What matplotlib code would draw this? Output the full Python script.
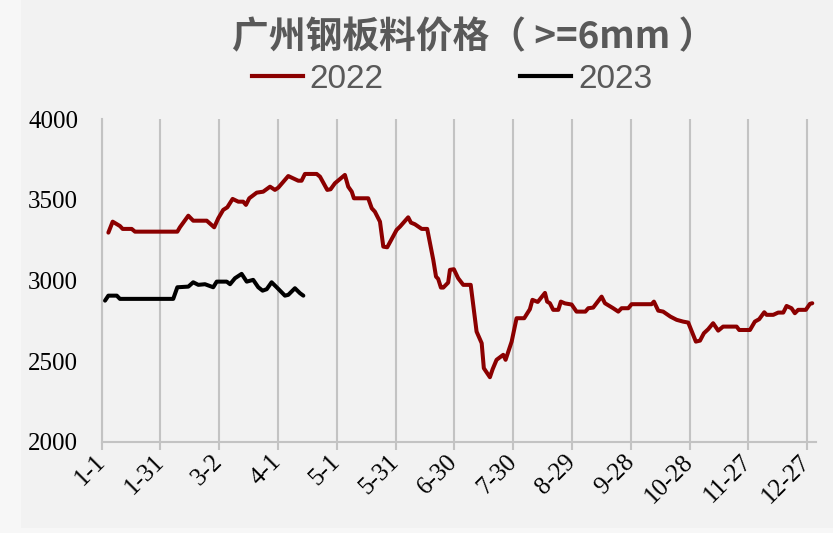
import matplotlib
matplotlib.use("Agg")
import matplotlib.pyplot as plt
from matplotlib.lines import Line2D
from matplotlib.patches import Rectangle

# ---- data ----
title = "广州钢板料价格（ >=6mm ）"
series_names = ["2022", "2023"]
tick_days = [0, 30, 60, 90, 120, 150, 180, 210, 240, 270, 300, 330, 360]
tick_labels = ["1-1", "1-31", "3-2", "4-1", "5-1", "5-31", "6-30", "7-30",
               "8-29", "9-28", "10-28", "11-27", "12-27"]

days_2022 = [3.4, 5.6, 9.3, 10.7, 15.3, 17, 38.6, 39.9, 44.2, 46.7, 53.6, 57.4,
             59.5, 62, 64.1, 66.8, 69.7, 72.2, 73.6, 75.3, 79.1, 82.4, 85.9,
             88.4, 90.1, 95.2, 100.3, 102, 103.7, 109.7, 111.4, 115.1, 116.8,
             119, 124.1, 125.8, 127.6, 128.7, 136, 137.8, 139.4, 142, 143.7,
             145.7, 148, 150.5, 152.2, 156.4, 157.8, 159.8, 163.3, 166.1,
             169.2, 170.6, 171.7, 173.1, 174.3, 176.8, 177.7, 179.7, 181.9,
             184.5, 188.3, 191.3, 193.9, 195, 198.1, 199.5, 201.5, 203.3,
             204.9, 206.1, 209.2, 211.7, 215.6, 218.5, 219.8, 222.5, 226.2,
             227.3, 228.7, 230.4, 233, 234.3, 236.4, 239.8, 242.3, 246.8,
             248.3, 250.8, 255.1, 256.8, 261, 263.6, 265.3, 268.7, 270.4,
             280.6, 281.8, 284, 286.5, 290.2, 293.4, 296.7, 299.3, 303.2,
             305.3, 307.3, 309.5, 312, 314.6, 317.1, 324, 325.3, 330.8, 333.3,
             335.5, 338.1, 339.3, 342.7, 345.2, 347.8, 349.5, 352, 353.7,
             355.4, 359.3, 361.4, 362.6]
price_2022 = [3297, 3365, 3338, 3320, 3320, 3303, 3303, 3330, 3402, 3371, 3371,
              3330, 3386, 3438, 3454, 3506, 3489, 3489, 3469, 3510, 3545, 3551,
              3582, 3562, 3576, 3648, 3619, 3619, 3661, 3661, 3644, 3562, 3566,
              3603, 3655, 3582, 3551, 3510, 3510, 3448, 3427, 3365, 3210, 3206,
              3258, 3314, 3334, 3392, 3359, 3349, 3320, 3320, 3128, 3024, 3010,
              2956, 2956, 2987, 3066, 3070, 3014, 2973, 2973, 2683, 2611, 2456,
              2400, 2450, 2508, 2524, 2539, 2508, 2621, 2766, 2766, 2822, 2880,
              2867, 2923, 2869, 2859, 2818, 2818, 2869, 2858, 2851, 2807, 2807,
              2828, 2832, 2900, 2859, 2828, 2807, 2828, 2828, 2853, 2853, 2869,
              2813, 2807, 2776, 2756, 2745, 2739, 2621, 2627, 2673, 2698, 2735,
              2689, 2714, 2714, 2693, 2693, 2745, 2760, 2803, 2787, 2787, 2801,
              2801, 2842, 2828, 2797, 2818, 2818, 2855, 2859]

days_2023 = [1.7, 3.4, 7.7, 9.3, 36.5, 38.6, 44.2, 46.7, 49.3, 52.7, 56.9, 58.7,
             63.8, 65.5, 68, 71.4, 74, 77.3, 79.9, 82.1, 84.2, 86.7, 89.3, 93.5,
             95.2, 98.6, 101.2, 102.9]
price_2023 = [2875, 2906, 2906, 2886, 2886, 2958, 2962, 2989, 2973, 2977, 2958,
              2993, 2993, 2977, 3014, 3041, 2993, 3004, 2958, 2937, 2946, 2989,
              2958, 2906, 2911, 2952, 2921, 2906]

c2022 = "#8B0000"
c2023 = "#000000"
grid_c = "#c3c3c3"
text_c = "#595959"

W, H = 833, 533
fig = plt.figure(figsize=(W / 100, H / 100), dpi=100)
fig.patch.set_facecolor("#f7f7f7")
fig.patches.append(Rectangle((21 / W, 1 - 528 / H), 1 - 21 / W, 528 / H,
                             transform=fig.transFigure, facecolor="#f2f2f2",
                             edgecolor="none", zorder=-5))

ax = fig.add_axes([101.7 / W, 1 - 441.7 / H, (816 - 101.7) / W, (441.7 - 119.3) / H])
ax.set_facecolor("none")
ax.set_zorder(2)

ax.plot(days_2022, price_2022, color=c2022, lw=2.9, solid_joinstyle="round",
        solid_capstyle="round", zorder=3)
ax.plot(days_2023, price_2023, color=c2023, lw=2.9, solid_joinstyle="round",
        solid_capstyle="round", zorder=3)

ax.set_xlim(0, 364.5)
ax.set_ylim(2000, 4000)
ax.set_yticks([2000, 2500, 3000, 3500, 4000])
ax.set_xticks(tick_days)
ax.set_xticklabels(tick_labels, rotation=45, ha="right", va="center",
                   rotation_mode="anchor")
ax.grid(axis="x", color=grid_c, lw=1.5, zorder=1)
ax.grid(axis="y", visible=False)

for s in ["top", "right"]:
    ax.spines[s].set_visible(False)
for s in ["left", "bottom"]:
    ax.spines[s].set_color(grid_c)
    ax.spines[s].set_linewidth(1.5)

ax.tick_params(axis="x", length=6, width=1.5, color=grid_c, pad=6,
               labelsize=18, labelcolor="black")
ax.tick_params(axis="y", length=0, pad=17, labelsize=18, labelcolor="black")
for lab in ax.get_xticklabels() + ax.get_yticklabels():
    lab.set_fontfamily("Liberation Serif")

fig.text(474 / W, 1 - 38 / H, title, ha="center", va="center",
         fontsize=26.5, fontweight="bold", color=text_c,
         family=["Noto Sans CJK SC", "DejaVu Sans"])

handles = [Line2D([], [], color=c2022, lw=3), Line2D([], [], color=c2023, lw=3)]
leg = fig.legend(handles, series_names, loc="center",
                 bbox_to_anchor=(452 / W, 1 - 79 / H), ncol=2, frameon=False,
                 handlelength=1.53, handletextpad=0.2, columnspacing=4.1,
                 prop={"family": "Liberation Sans", "size": 24})
for t in leg.get_texts():
    t.set_color(text_c)

fig.savefig("out.png", dpi=100, facecolor=fig.get_facecolor())
